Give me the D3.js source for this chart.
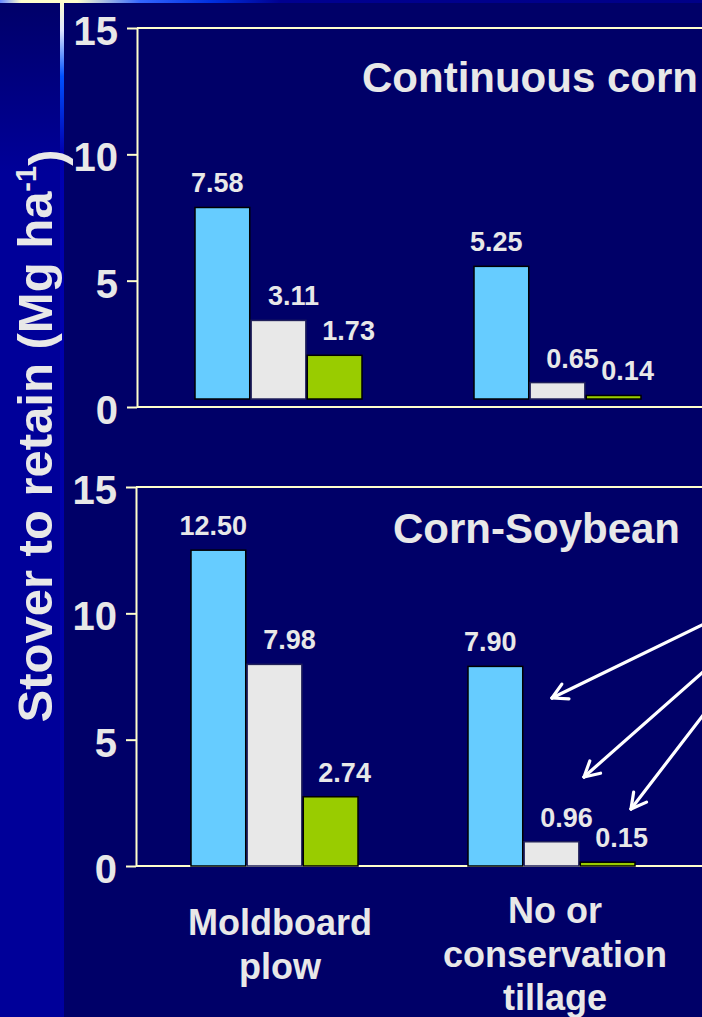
<!DOCTYPE html>
<html>
<head>
<meta charset="utf-8">
<script src="https://cdn.jsdelivr.net/npm/d3@7/dist/d3.min.js"></script>
<style>
  html, body { margin: 0; padding: 0; background: #000068; }
  svg { display: block; }
  text { font-family: Arial, "Liberation Sans", Helvetica, sans-serif; font-weight: bold; fill: #e8e8e8; }
</style>
</head>
<body>
<svg id="chart" width="702" height="1017"></svg>
<script>
// ---------------- DATA ----------------
const categories = ["Moldboard plow", "No or conservation tillage"];
const categoryLines = [["Moldboard", "plow"], ["No or", "conservation", "tillage"]];
const series = ["Scenario 1", "Scenario 2", "Scenario 3"];
const panelTitles = ["Continuous corn", "Corn-Soybean"];
// values[panel][category][series]
const continuousCorn = [[7.58, 3.11, 1.73], [5.25, 0.65, 0.14]];
const cornSoybean   = [[12.50, 7.98, 2.74], [7.90, 0.96, 0.15]];
const yTicks = [0, 5, 10, 15];
const yTitle = "Stover to retain (Mg ha";

// ---------------- STYLE / LAYOUT ----------------
const W = 702, H = 1017;
const colors = ["#66ccff", "#e8e8e8", "#99cc00"];
const strokes = ["#000000", "#20205a", "#000000"];
const labelDx = [-5, 15, 14];
const axisColor = "#ffffcc";

const panels = [
  { title: panelTitles[0], data: continuousCorn, yTop: 28, yZero: 407, barShift: -8,
    axisX: 137, xStart: 195, xStep: 279, titleX: 362, titleY: 92 },
  { title: panelTitles[1], data: cornSoybean, yTop: 487, yZero: 866, barShift: 0,
    axisX: 136, xStart: 191, xStep: 277, titleX: 393, titleY: 543 }
];

const svg = d3.select("#chart");
const defs = svg.append("defs");

// Background
svg.append("rect").attr("width", W).attr("height", H).attr("fill", "#000068");
const gStrip = defs.append("linearGradient").attr("id", "strip").attr("x1", 0).attr("y1", 0).attr("x2", 0).attr("y2", 1);
gStrip.append("stop").attr("offset", 0).attr("stop-color", "#000068");
gStrip.append("stop").attr("offset", 0.17).attr("stop-color", "#000099");
gStrip.append("stop").attr("offset", 1).attr("stop-color", "#000099");
svg.append("rect").attr("x", 0).attr("y", 0).attr("width", 60).attr("height", H).attr("fill", "url(#strip)");

const gV = defs.append("linearGradient").attr("id", "vline").attr("x1", 0).attr("y1", 0).attr("x2", 0).attr("y2", 1);
[[0, "#ffffcc"], [0.03, "#dde4ff"], [0.075, "#0050ff"], [0.15, "#0000b0"], [1, "#0000a0"]]
  .forEach(([o, c]) => gV.append("stop").attr("offset", o).attr("stop-color", c));
svg.append("rect").attr("x", 60).attr("y", 0).attr("width", 4).attr("height", H).attr("fill", "url(#vline)");

const gH = defs.append("linearGradient").attr("id", "hline").attr("x1", 0).attr("y1", 0).attr("x2", 1).attr("y2", 0);
[[0, "#6688ff"], [0.03, "#ffffcc"], [0.11, "#ffffcc"], [0.2, "#3366ff"], [0.3, "#0030e0"], [0.4, "#000090"], [1, "#000088"]]
  .forEach(([o, c]) => gH.append("stop").attr("offset", o).attr("stop-color", c));
svg.append("rect").attr("x", 0).attr("y", 0).attr("width", W).attr("height", 3).attr("fill", "url(#hline)");

// Y axis title
const yt = svg.append("text")
  .attr("transform", "translate(52,436) rotate(-90)")
  .attr("text-anchor", "middle")
  .style("font-size", "49px");
yt.append("tspan").text(yTitle);
yt.append("tspan").attr("dy", "-0.55em").style("font-size", "29px").text("-1");
yt.append("tspan").attr("dy", "0.55em").text(")");

panels.forEach((p) => {
  const g = svg.append("g");
  const y = d3.scaleLinear().domain([0, 15]).range([p.yZero, p.yTop]);
  const xg = d3.scaleLinear().domain([0, 1]).range([p.xStart, p.xStart + p.xStep]);
  const xs = d3.scaleBand().domain(series).range([0, 167]).paddingInner(0.025);

  // frame lines (top and baseline, extending past the visible area)
  g.append("line").attr("x1", p.axisX).attr("x2", W + 5).attr("y1", p.yTop).attr("y2", p.yTop)
    .attr("stroke", axisColor).attr("stroke-width", 2);
  g.append("line").attr("x1", p.axisX).attr("x2", W + 5).attr("y1", p.yZero).attr("y2", p.yZero)
    .attr("stroke", axisColor).attr("stroke-width", 2);

  // y axis
  const ax = g.append("g").attr("transform", `translate(${p.axisX},0)`)
    .call(d3.axisLeft(y).tickValues(yTicks).tickSize(10).tickSizeOuter(0).tickPadding(9).tickFormat(d3.format("d")));
  ax.select(".domain").attr("stroke", axisColor).attr("stroke-width", 2);
  ax.selectAll(".tick line").attr("stroke", axisColor).attr("stroke-width", 2);
  ax.selectAll(".tick text")
    .attr("fill", "#e8e8e8").attr("dy", "0.36em").attr("y", 2)
    .style("font-size", "40px").style("font-family", "Arial, 'Liberation Sans', sans-serif").style("font-weight", "bold");

  // title
  g.append("text").attr("x", p.titleX).attr("y", p.titleY).style("font-size", "42px").text(p.title);

  // bars
  const flat = [];
  p.data.forEach((vals, ci) => vals.forEach((v, si) => flat.push({ ci, si, v })));
  const bars = g.append("g").attr("transform", `translate(0,${p.barShift})`);
  bars.selectAll("rect").data(flat).join("rect")
    .attr("x", d => xg(d.ci) + xs(series[d.si]))
    .attr("width", xs.bandwidth())
    .attr("y", d => y(d.v))
    .attr("height", d => y(0) - y(d.v))
    .attr("fill", d => colors[d.si])
    .attr("stroke", d => strokes[d.si])
    .attr("stroke-width", 1.5);
  bars.selectAll("text").data(flat).join("text")
    .attr("x", d => xg(d.ci) + xs(series[d.si]) + xs.bandwidth() / 2 + labelDx[d.si])
    .attr("y", d => y(d.v) - 15)
    .attr("text-anchor", "middle")
    .style("font-size", "27px")
    .text(d => d3.format(".2f")(d.v));
});

// category labels (below bottom panel)
const pb = panels[1];
const xgB = d3.scaleLinear().domain([0, 1]).range([pb.xStart + 87, pb.xStart + 87 + pb.xStep]);
categories.forEach((c, ci) => {
  const lines = categoryLines[ci];
  const t = svg.append("text").attr("text-anchor", "middle").style("font-size", "36px");
  const first = 923 + (3 - lines.length) * 12;
  lines.forEach((ln, li) => {
    t.append("tspan").attr("x", xgB(ci) + (ci === 0 ? 2 : 0)).attr("y", first + li * 43.5).text(ln);
  });
});

// annotation arrows (pointing from an off-canvas legend to the bottom-panel bars)
const arrows = [
  { from: [704, 624], to: [552, 698] },
  { from: [704, 671], to: [584, 777] },
  { from: [704, 714], to: [631, 809] }
];
const ag = svg.append("g").attr("stroke", "#ffffff").attr("stroke-width", 3.2).attr("fill", "none").attr("stroke-linecap", "round");
arrows.forEach(a => {
  const [x1, y1] = a.from, [x2, y2] = a.to;
  ag.append("line").attr("x1", x1).attr("y1", y1).attr("x2", x2).attr("y2", y2);
  const ang = Math.atan2(y1 - y2, x1 - x2);
  const L = 17, spread = 0.5;
  [ang - spread, ang + spread].forEach(t => {
    ag.append("line").attr("x1", x2).attr("y1", y2)
      .attr("x2", x2 + L * Math.cos(t)).attr("y2", y2 + L * Math.sin(t));
  });
});
</script>
</body>
</html>
